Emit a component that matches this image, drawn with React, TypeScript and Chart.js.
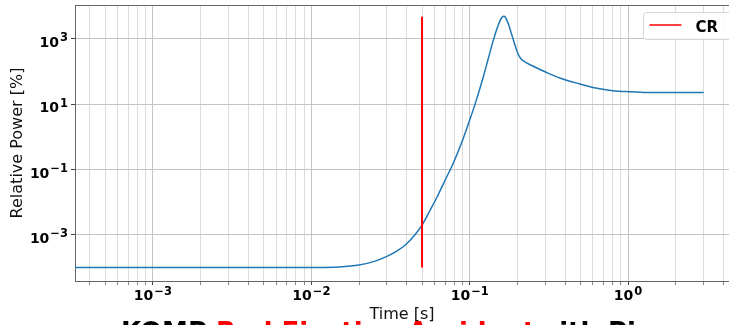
import React, { useEffect, useRef } from "react";
import { Chart, registerables } from "chart.js";

Chart.register(...registerables);

// ---- data ----
const timeS = [
  3e-4, 1e-3, 5e-3, 0.01, 0.015, 0.02, 0.025, 0.03, 0.035, 0.04, 0.045, 0.05,
  0.056, 0.062, 0.07, 0.079, 0.09, 0.1, 0.11, 0.121, 0.13, 0.14, 0.148, 0.155,
  0.16, 0.164, 0.168, 0.175, 0.1875, 0.196, 0.202, 0.21, 0.218, 0.25, 0.306,
  0.37, 0.494, 0.6, 0.8, 1.0, 1.5, 2.0, 3.0,
];
const relPowerPct = [
  1e-4, 1e-4, 1e-4, 1.01e-4, 1.05e-4, 1.2e-4, 1.55e-4, 2.2e-4, 3.3e-4, 5.4e-4,
  1.0e-3, 2.0e-3, 5.5e-3, 0.014, 0.048, 0.163, 0.78, 3.3, 13.2, 61.7, 219, 813,
  1963, 3524, 4605, 4943, 4640, 2955, 1026, 522, 347, 252, 212, 149, 94, 64, 42,
  32.7, 26.2, 24.4, 23, 23, 23,
];
const crTime = [0.05, 0.05];
const crPower = [1e-4, 4800];

const xDecades = [-4, -3, -2, -1, 0];
const xMultipliers = [1, 2, 3, 4, 5, 6, 7, 8, 9];
const yTickValues = [1e-3, 1e-1, 1e1, 1e3];

const titleParts = ["KOMP ", "Rod Ejection Accident", " with Pi"];
const titleColors = ["#000000", "#ff0000", "#000000"];

// ---- styles ----
const FONT = '"DejaVu Sans", sans-serif';
const SPINE = "#666666";
const GRID_MAJOR = "#c4c4c4";
const GRID_MINOR = "#dcdcdc";
const W = 729;
const H = 325;

function isDecade(v: number) {
  const l = Math.log10(v);
  return Math.abs(l - Math.round(l)) < 1e-9;
}
function expText(v: number) {
  const e = Math.round(Math.log10(v));
  return (e < 0 ? "\u2212" : "") + String(Math.abs(e));
}

// draws "10" with a raised exponent; align: 'center' (x axis) or 'right' (y axis)
function drawPow(ctx: any, v: number, x: number, baseY: number, align: string) {
  const base = "10";
  const ex = expText(v);
  ctx.font = "bold 14px " + FONT;
  const bw = ctx.measureText(base).width;
  ctx.font = "bold 11.5px " + FONT;
  const ew = ctx.measureText(ex).width;
  const total = bw + 1 + ew;
  const x0 = align === "center" ? x - total / 2 : x - total;
  ctx.fillStyle = "#000";
  ctx.textAlign = "left";
  ctx.textBaseline = "alphabetic";
  ctx.font = "bold 14px " + FONT;
  ctx.fillText(base, x0, baseY);
  ctx.font = "bold 11.5px " + FONT;
  ctx.fillText(ex, x0 + bw + 1, baseY - 5.5);
}

const extras = {
  id: "extras",
  afterDraw(chart: any) {
    const { ctx, chartArea: a } = chart;
    ctx.save();
    // top spine
    ctx.strokeStyle = SPINE;
    ctx.lineWidth = 1;
    ctx.beginPath();
    ctx.moveTo(a.left, a.top + 0.5);
    ctx.lineTo(a.right, a.top + 0.5);
    ctx.stroke();

    // tick labels with superscript exponents
    const xs = chart.scales.x;
    xs.ticks.forEach((t: any) => {
      if (isDecade(t.value)) drawPow(ctx, t.value, xs.getPixelForValue(t.value), a.bottom + 19, "center");
    });
    const ys = chart.scales.y;
    ys.ticks.forEach((t: any) => {
      drawPow(ctx, t.value, a.left - 7, ys.getPixelForValue(t.value) + 8, "right");
    });

    // legend
    const lx = a.right - 85.5;
    const ly = a.top + 7.5;
    const lw = 95;
    const lh = 27;
    const r = 3;
    ctx.beginPath();
    ctx.moveTo(lx + r, ly);
    ctx.lineTo(lx + lw - r, ly);
    ctx.arcTo(lx + lw, ly, lx + lw, ly + r, r);
    ctx.lineTo(lx + lw, ly + lh - r);
    ctx.arcTo(lx + lw, ly + lh, lx + lw - r, ly + lh, r);
    ctx.lineTo(lx + r, ly + lh);
    ctx.arcTo(lx, ly + lh, lx, ly + lh - r, r);
    ctx.lineTo(lx, ly + r);
    ctx.arcTo(lx, ly, lx + r, ly, r);
    ctx.closePath();
    ctx.fillStyle = "rgba(255,255,255,0.85)";
    ctx.fill();
    ctx.strokeStyle = "#d6d6d6";
    ctx.lineWidth = 1;
    ctx.stroke();
    ctx.strokeStyle = "#ff0000";
    ctx.lineWidth = 1.5;
    ctx.beginPath();
    ctx.moveTo(lx + 6, ly + 12.5);
    ctx.lineTo(lx + 38, ly + 12.5);
    ctx.stroke();
    ctx.fillStyle = "#000";
    ctx.font = "bold 15px " + FONT;
    ctx.textBaseline = "alphabetic";
    ctx.textAlign = "left";
    ctx.fillText("CR", lx + 52, ly + 19);

    // figure title (multi-coloured)
    ctx.font = "bold 26px " + FONT;
    ctx.textBaseline = "alphabetic";
    const spaceW = ctx.measureText(" ").width;
    let x = 121;
    titleParts.forEach((t, i) => {
      ctx.fillStyle = titleColors[i];
      const dx = i === 2 ? -spaceW : 0;
      ctx.fillText(t, x + dx, 341);
      x += ctx.measureText(t).width + dx;
    });
    ctx.restore();
  },
};

export default function App() {
  const ref = useRef<HTMLCanvasElement | null>(null);
  useEffect(() => {
    if (!ref.current) return;
    const powerData = timeS.map((t, i) => ({ x: t, y: relPowerPct[i] }));
    const crData = crTime.map((t, i) => ({ x: t, y: crPower[i] }));
    const chart = new Chart(ref.current, {
      type: "line",
      data: {
        datasets: [
          {
            label: "CR",
            data: crData,
            borderColor: "#ff0000",
            borderWidth: 2,
            pointRadius: 0,
            order: 0,
          },
          {
            label: "Power",
            data: powerData,
            borderColor: "#1f77b4",
            borderWidth: 1.5,
            pointRadius: 0,
            cubicInterpolationMode: "monotone",
            order: 1,
          },
        ],
      },
      options: {
        animation: false,
        responsive: false,
        devicePixelRatio: 1,
        layout: { padding: { top: 5, left: 0, right: 0, bottom: 0 } },
        plugins: { legend: { display: false }, tooltip: { enabled: false }, title: { display: false } },
        scales: {
          x: {
            type: "logarithmic",
            bounds: "data",
            min: Math.pow(10, -3.492),
            max: Math.pow(10, 0.637),
            afterFit: (s: any) => {
              s.height = 44;
              s.paddingLeft = 0;
              s.paddingRight = 0;
            },
            afterBuildTicks: (s: any) => {
              const t: any[] = [];
              xDecades.forEach((d) =>
                xMultipliers.forEach((m) => {
                  const v = m * Math.pow(10, d);
                  if (v >= s.min && v <= s.max) t.push({ value: v });
                })
              );
              s.ticks = t;
            },
            grid: {
              color: (c: any) => (c.tick && isDecade(c.tick.value) ? GRID_MAJOR : GRID_MINOR),
              lineWidth: 1,
              drawTicks: true,
              tickLength: 4,
              tickColor: (c: any) => (c.tick && isDecade(c.tick.value) ? "#444" : "#888"),
            },
            border: { display: true, color: SPINE, width: 1 },
            ticks: { display: false, autoSkip: false, maxRotation: 0 },
            title: {
              display: true,
              text: "Time [s]",
              color: "#111",
              font: { family: FONT, size: 16 },
              padding: { top: 0, bottom: 1 },
            },
          },
          y: {
            type: "logarithmic",
            bounds: "data",
            min: Math.pow(10, -4.41),
            max: Math.pow(10, 4.04),
            afterFit: (s: any) => {
              s.width = 75;
              s.paddingTop = 0;
              s.paddingBottom = 0;
            },
            afterBuildTicks: (s: any) => {
              s.ticks = yTickValues.map((v) => ({ value: v }));
            },
            grid: {
              color: GRID_MAJOR,
              lineWidth: 1,
              drawTicks: true,
              tickLength: 4,
              tickColor: "#444",
            },
            border: { display: true, color: SPINE, width: 1 },
            ticks: { display: false, autoSkip: false },
            title: {
              display: true,
              text: "Relative Power [%]",
              color: "#111",
              font: { family: FONT, size: 16 },
              padding: { top: 8, bottom: 0 },
            },
          },
        },
      },
      plugins: [extras],
    } as any);
    return () => chart.destroy();
  }, []);

  return (
    <div style={{ position: "fixed", left: 0, top: 0, width: W, height: H, overflow: "hidden" }}>
      <canvas ref={ref} width={W} height={H} style={{ display: "block", width: W, height: H }} />
    </div>
  );
}
